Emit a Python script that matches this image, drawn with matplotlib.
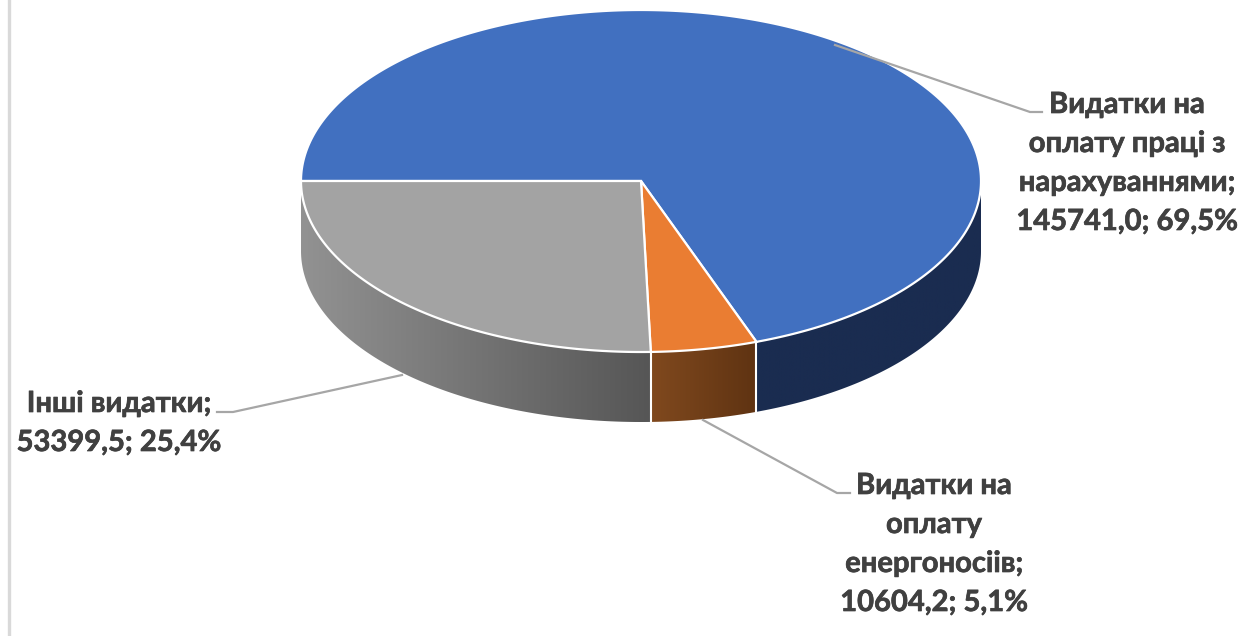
import numpy as np
import matplotlib
matplotlib.use('Agg')
import matplotlib.pyplot as plt
import matplotlib.patheffects as pe
from matplotlib.colors import LinearSegmentedColormap
from matplotlib.patches import Polygon

plt.rcParams['font.family'] = ['Lato', 'DejaVu Sans']

# data, clockwise from the 9 o'clock position
names = [['Видатки на', 'оплату праці з', 'нарахуваннями;'],
         ['Видатки на', 'оплату', 'енергоносіів;'],
         ['Інші видатки;']]
values = [145741.0, 10604.2, 53399.5]
percents = ['69,5%', '5,1%', '25,4%']
top_colors = ['#4170c0', '#ea7d32', '#a3a3a3']
side_left = ['#1a2c50', '#80491e', '#929292']
side_right = ['#1a2c50', '#5f3312', '#565656']

# pie geometry in pixels
cx, cy = 641, 181
rx, ry = 340, 171
depth = 70
start = 270.0


def ellipse_xy(deg, dy=0):
    # deg is measured clockwise from 12 o'clock
    a = np.radians(deg)
    return cx + rx * np.sin(a), cy - ry * np.cos(a) + dy


fig = plt.figure(figsize=(12.42, 6.36), dpi=100)
ax = fig.add_axes([0, 0, 1, 1])

angles = start + np.concatenate([[0], np.cumsum(values)]) / np.sum(values) * 360

# sides first, top faces go over them
for i in range(len(values)):
    a0, a1 = angles[i], angles[i + 1]
    # only the front half of the rim can be seen (90..270 clockwise from top)
    shift = 360 * np.floor((a1 - 90) / 360)
    lo = max(a0 - shift, 90)
    hi = min(a1 - shift, 270)
    if hi <= lo:
        continue
    t = np.linspace(lo, hi, 150)
    x, y = ellipse_xy(t)
    xb, yb = ellipse_xy(t[::-1], depth)
    poly = Polygon(np.column_stack([np.r_[x, xb], np.r_[y, yb]]), closed=True,
                   facecolor='none', edgecolor='none')
    ax.add_patch(poly)
    cmap = LinearSegmentedColormap.from_list('side', [side_left[i], side_right[i]])
    im = ax.imshow(np.linspace(0, 1, 256).reshape(1, -1), cmap=cmap, aspect='auto',
                   extent=[x.min(), x.max(), cy + ry + depth, cy], zorder=1)
    im.set_clip_path(poly)
    # white seam at the slice boundary
    if lo == a0 - shift and lo > 90:
        px, py = ellipse_xy(lo)
        ax.plot([px, px], [py, py + depth], color='white', lw=1.5, zorder=2)

for i in range(len(values)):
    t = np.linspace(angles[i], angles[i + 1], 300)
    x, y = ellipse_xy(t)
    ax.add_patch(Polygon(np.column_stack([np.r_[cx, x], np.r_[cy, y]]), closed=True,
                         facecolor=top_colors[i], edgecolor='white', lw=1.6,
                         joinstyle='miter', zorder=3))

# leader lines
leader = '#a6a6a6'
ax.plot([835, 1030, 1042], [45, 112, 112], color=leader, lw=1.6, zorder=4)
ax.plot([703, 837, 850], [420, 493, 493], color=leader, lw=1.6, zorder=4)
ax.plot([402, 233, 217], [375, 412, 412], color=leader, lw=1.6, zorder=4)

# labels, one text per line so the line pitch stays even
label_x = [1127, 934, 119]
label_y = [113, 494, 412]
line_step = 39
for i in range(len(values)):
    lines = names[i] + ['%s; %s' % (('%.1f' % values[i]).replace('.', ','), percents[i])]
    for j, line in enumerate(lines):
        t = ax.text(label_x[i], label_y[i] + j * line_step, line, ha='center', va='baseline',
                    fontsize=21, fontweight='bold', color='#404040', zorder=5)
        t.set_path_effects([pe.withStroke(linewidth=0.5, foreground='#404040')])

# frame line on the left edge
ax.plot([9, 9], [0, 636], color='#d9d9d9', lw=2.4, zorder=0)

ax.set_xlim(0, 1242)
ax.set_ylim(636, 0)
ax.axis('off')
fig.savefig('out.png', dpi=100)
